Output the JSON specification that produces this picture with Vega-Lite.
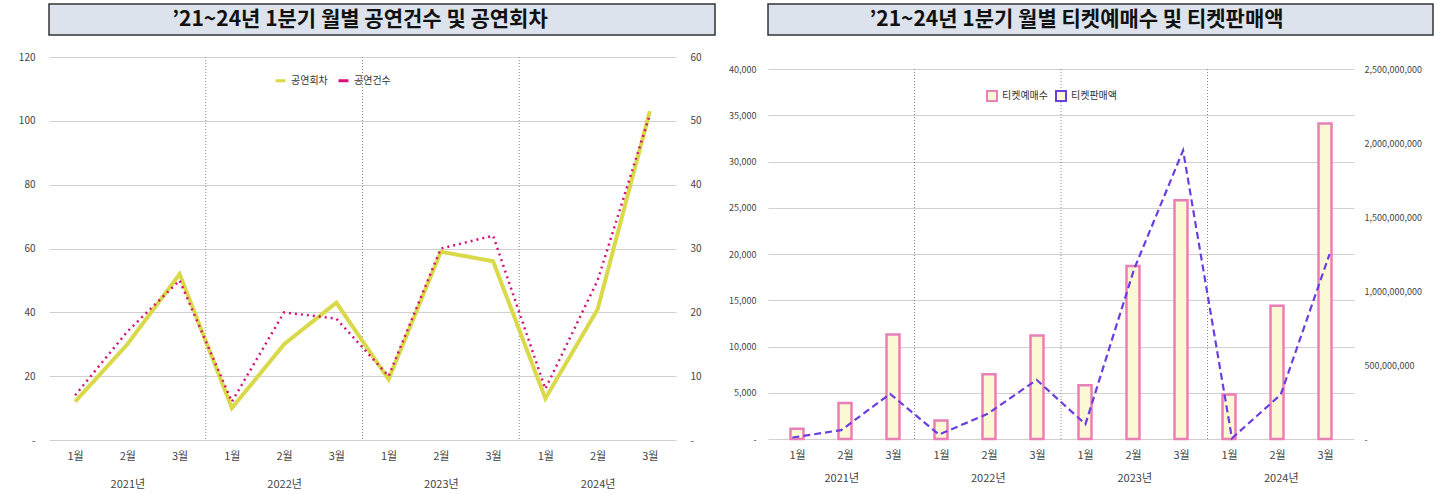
{
  "$schema": "https://vega.github.io/schema/vega-lite/v6.json",
  "padding": {"left": 3, "top": 3, "right": 2, "bottom": 0},
  "background": "white",
  "datasets": {
    "monthly": [
      {"idx": 0, "year": "2021년", "month": "1월", "shows": 12, "titles": 7, "tickets": 1100, "sales": 10000000},
      {"idx": 1, "year": "2021년", "month": "2월", "shows": 30, "titles": 17, "tickets": 3900, "sales": 60000000},
      {"idx": 2, "year": "2021년", "month": "3월", "shows": 52, "titles": 25, "tickets": 11300, "sales": 305000000},
      {"idx": 3, "year": "2022년", "month": "1월", "shows": 10, "titles": 6, "tickets": 2000, "sales": 30000000},
      {"idx": 4, "year": "2022년", "month": "2월", "shows": 30, "titles": 20, "tickets": 7000, "sales": 170000000},
      {"idx": 5, "year": "2022년", "month": "3월", "shows": 43, "titles": 19, "tickets": 11200, "sales": 400000000},
      {"idx": 6, "year": "2023년", "month": "1월", "shows": 19, "titles": 10, "tickets": 5800, "sales": 100000000},
      {"idx": 7, "year": "2023년", "month": "2월", "shows": 59, "titles": 30, "tickets": 18700, "sales": 1150000000},
      {"idx": 8, "year": "2023년", "month": "3월", "shows": 56, "titles": 32, "tickets": 25800, "sales": 1950000000},
      {"idx": 9, "year": "2024년", "month": "1월", "shows": 13, "titles": 8, "tickets": 4800, "sales": 5000000},
      {"idx": 10, "year": "2024년", "month": "2월", "shows": 41, "titles": 25, "tickets": 14400, "sales": 300000000},
      {"idx": 11, "year": "2024년", "month": "3월", "shows": 103, "titles": 51, "tickets": 34100, "sales": 1250000000}
    ],
    "seps": [{"sep": 2.5}, {"sep": 5.5}, {"sep": 8.5}]
  },
  "config": {
    "font": "Noto Sans CJK KR",
    "concat": {"spacing": 3},
    "axis": {"labelColor": "#444", "labelFontSize": 10, "domain": false, "ticks": false, "title": null, "gridColor": "#d0d0d0"},
    "legend": {"labelFontSize": 10, "labelColor": "#333"}
  },
  "resolve": {"scale": {"stroke": "independent"}, "legend": {"stroke": "independent"}},
  "hconcat": [
    {
      "vconcat": [
        {
          "width": 666, "height": 31,
          "view": {"fill": "#dde3ec", "stroke": "#333", "strokeWidth": 1.5},
          "data": {"values": [{"t": "’21~24년 1분기 월별 공연건수 및 공연회차"}]},
          "mark": {"type": "text", "fontSize": 21, "fontWeight": "bold", "color": "#111", "dx": -22},
          "encoding": {
            "text": {"field": "t"},
            "y": {"datum": 0, "type": "quantitative", "scale": {"domain": [-1, 1]}, "axis": {"labels": false, "grid": false, "minExtent": 45, "maxExtent": 45}}
          }
        },
        {
          "width": 627, "height": 383,
          "view": {"stroke": null},
          "data": {"name": "monthly"},
          "layer": [
            {
              "data": {"name": "seps"},
              "mark": {"type": "rule", "color": "#888", "strokeDash": [1, 2], "strokeWidth": 1},
              "encoding": {
                "x": {"field": "sep", "type": "quantitative", "scale": {"domain": [-0.5, 11.5], "nice": false, "zero": false},
                  "axis": {"orient": "bottom", "values": [1, 4, 7, 10], "labelExpr": "datum.value == 1 ? '2021년' : datum.value == 4 ? '2022년' : datum.value == 7 ? '2023년' : '2024년'", "labelPadding": 38, "grid": false, "labelFontSize": 11}}
              }
            },
            {
              "mark": {"type": "line", "color": "#d9d94a", "strokeWidth": 4},
              "encoding": {
                "x": {"field": "idx", "type": "quantitative", "scale": {"domain": [-0.5, 11.5], "nice": false, "zero": false},
                  "axis": {"orient": "bottom", "values": [0,1,2,3,4,5,6,7,8,9,10,11], "labelExpr": "['1월','2월','3월'][datum.value % 3]", "labelPadding": 10, "grid": false, "labelFontSize": 11}},
                "y": {"field": "shows", "type": "quantitative", "scale": {"domain": [0, 120]},
                  "axis": {"values": [0, 20, 40, 60, 80, 100, 120], "labelExpr": "datum.value == 0 ? '-' : format(datum.value, ',')", "labelPadding": 14, "minExtent": 45, "maxExtent": 45}},
                "stroke": {"datum": "공연회차", "type": "nominal", "scale": {"domain": ["공연회차", "공연건수"], "range": ["#d9d94a", "#d6127a"]},
                  "legend": {"title": null, "orient": "none", "legendX": 225, "legendY": 70, "direction": "horizontal", "symbolType": "stroke", "symbolStrokeWidth": 3, "columnPadding": 4}}
              }
            },
            {
              "mark": {"type": "line", "color": "#d6127a", "strokeWidth": 2.5, "strokeDash": [2, 4]},
              "encoding": {
                "x": {"field": "idx", "type": "quantitative", "scale": {"domain": [-0.5, 11.5], "nice": false, "zero": false}, "axis": null},
                "y": {"field": "titles", "type": "quantitative", "scale": {"domain": [0, 60]},
                  "axis": {"orient": "right", "grid": false, "values": [0, 10, 20, 30, 40, 50, 60], "labelExpr": "datum.value == 0 ? '-' : format(datum.value, ',')", "labelPadding": 14}},
                "stroke": {"datum": "공연건수", "type": "nominal"}
              }
            }
          ],
          "resolve": {"scale": {"x": "independent", "y": "independent"}, "axis": {"x": "independent", "y": "independent"}}
        }
      ],
      "spacing": 16
    },
    {
      "vconcat": [
        {
          "width": 665, "height": 31,
          "view": {"fill": "#dde3ec", "stroke": "#333", "strokeWidth": 1.5},
          "data": {"values": [{"t": "’21~24년 1분기 월별 티켓예매수 및 티켓판매액"}]},
          "mark": {"type": "text", "fontSize": 21, "fontWeight": "bold", "color": "#111", "dx": -24},
          "encoding": {
            "text": {"field": "t"},
            "y": {"datum": 0, "type": "quantitative", "scale": {"domain": [-1, 1]}, "axis": {"labels": false, "grid": false, "minExtent": 48, "maxExtent": 48}}
          }
        },
        {
          "width": 586, "height": 370,
          "view": {"stroke": null},
          "data": {"name": "monthly"},
          "layer": [
            {
              "data": {"name": "seps"},
              "mark": {"type": "rule", "color": "#888", "strokeDash": [1, 2], "strokeWidth": 1},
              "encoding": {
                "x": {"field": "sep", "type": "quantitative", "scale": {"domain": [-0.5, 11.5], "nice": false, "zero": false},
                  "axis": {"orient": "bottom", "values": [1, 4, 7, 10], "labelExpr": "datum.value == 1 ? '2021년' : datum.value == 4 ? '2022년' : datum.value == 7 ? '2023년' : '2024년'", "labelPadding": 33, "grid": false, "labelFontSize": 11}}
              }
            },
            {
              "mark": {"type": "bar", "fill": "#fbf8d6", "strokeWidth": 2.5, "size": 13},
              "encoding": {
                "x": {"field": "idx", "type": "quantitative", "scale": {"domain": [-0.5, 11.5], "nice": false, "zero": false},
                  "axis": {"orient": "bottom", "values": [0,1,2,3,4,5,6,7,8,9,10,11], "labelExpr": "['1월','2월','3월'][datum.value % 3]", "labelPadding": 10, "grid": false, "labelFontSize": 11}},
                "y": {"field": "tickets", "type": "quantitative", "scale": {"domain": [0, 40000]},
                  "axis": {"values": [0, 5000, 10000, 15000, 20000, 25000, 30000, 35000, 40000], "labelExpr": "datum.value == 0 ? '-' : format(datum.value, ',')", "labelPadding": 12, "labelFontSize": 9, "minExtent": 48, "maxExtent": 48}},
                "stroke": {"datum": "티켓예매수", "type": "nominal", "scale": {"domain": ["티켓예매수", "티켓판매액"], "range": ["#e880b8", "#6a3ee0"]},
                  "legend": {"title": null, "orient": "none", "legendX": 218, "legendY": 86, "direction": "horizontal", "symbolType": "square", "symbolFillColor": "#fbf8d6", "symbolStrokeWidth": 2, "columnPadding": 4}}
              }
            },
            {
              "mark": {"type": "line", "color": "#6a3ee0", "strokeWidth": 2.2, "strokeDash": [7, 4]},
              "encoding": {
                "x": {"field": "idx", "type": "quantitative", "scale": {"domain": [-0.5, 11.5], "nice": false, "zero": false}, "axis": null},
                "y": {"field": "sales", "type": "quantitative", "scale": {"domain": [0, 2500000000]},
                  "axis": {"orient": "right", "grid": false, "values": [0, 500000000, 1000000000, 1500000000, 2000000000, 2500000000], "labelExpr": "datum.value == 0 ? '-' : format(datum.value, ',')", "labelPadding": 10, "labelFontSize": 9}},
                "stroke": {"datum": "티켓판매액", "type": "nominal"}
              }
            }
          ],
          "resolve": {"scale": {"x": "independent", "y": "independent"}, "axis": {"x": "independent", "y": "independent"}}
        }
      ],
      "spacing": 29
    }
  ]
}
